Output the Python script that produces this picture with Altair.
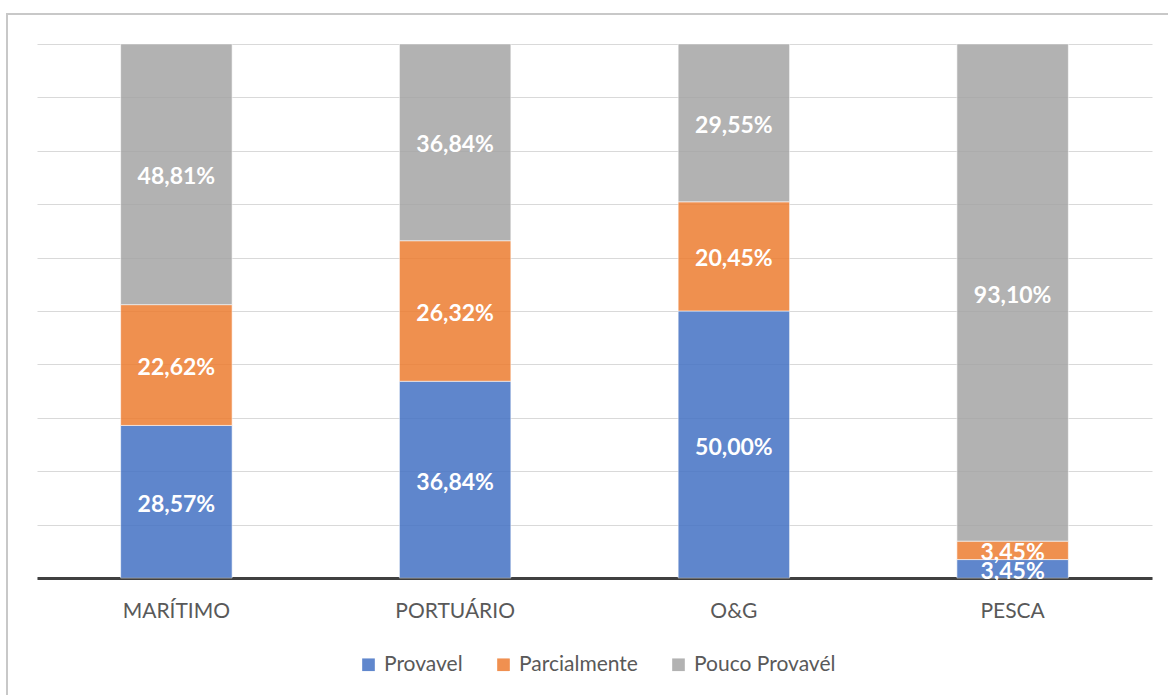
import altair as alt
import pandas as pd

# Sectors along the x axis
sectors = ["MARÍTIMO", "PORTUÁRIO", "O&G", "PESCA"]

# Share of answers per sector (percent), one list per answer class
provavel = [28.57, 36.84, 50.00, 3.45]
parcialmente = [22.62, 26.32, 20.45, 3.45]
pouco_provavel = [48.81, 36.84, 29.55, 93.10]

series = ["Provavel", "Parcialmente", "Pouco Provavél"]
colors = ["#4472C4", "#ED7D31", "#A5A5A5"]

rows = []
for i, s in enumerate(sectors):
    for k, (name, vals) in enumerate(zip(series, [provavel, parcialmente, pouco_provavel])):
        rows.append({"setor": s, "serie": name, "ordem": k, "valor": vals[i]})
df = pd.DataFrame(rows)

FONT = "Lato"
W, H = 1115, 534

base = alt.Chart(df).transform_stack(
    stack="valor", groupby=["setor"], sort=[alt.SortField("ordem")], as_=["y0", "y1"]
).transform_calculate(
    mid="(datum.y0 + datum.y1) / 2",
    rotulo="replace(format(datum.valor, '.2f'), '.', ',') + '%'",
)

x_enc = alt.X(
    "setor:N",
    sort=sectors,
    title=None,
    scale=alt.Scale(paddingInner=0.6, paddingOuter=0.3),
    axis=alt.Axis(
        labelAngle=0,
        labelFont=FONT,
        labelFontSize=21,
        labelColor="#595959",
        labelPadding=22,
        ticks=False,
        domainColor="#404040",
        domainWidth=3,
        grid=False,
    ),
)

y_scale = alt.Scale(domain=[0, 100], nice=False)

bars = base.mark_bar(opacity=0.85, stroke="#ffffff", strokeWidth=1, strokeOpacity=0.6).encode(
    x=x_enc,
    y=alt.Y(
        "y0:Q",
        scale=y_scale,
        title=None,
        axis=alt.Axis(
            values=list(range(0, 101, 10)),
            labels=False,
            ticks=False,
            domain=False,
            grid=True,
            gridColor="#d9d9d9",
            gridWidth=1,
        ),
    ),
    y2="y1:Q",
    color=alt.Color(
        "serie:N",
        scale=alt.Scale(domain=series, range=colors),
        sort=series,
        legend=alt.Legend(
            title=None,
            orient="none",
            direction="horizontal",
            legendX=321,
            legendY=610,
            symbolType="square",
            symbolSize=160,
            symbolOpacity=0.85,
            symbolStrokeWidth=0,
            labelFont=FONT,
            labelFontSize=21,
            labelColor="#595959",
            labelOffset=5,
            columnPadding=30,
        ),
    ),
)

labels = base.mark_text(
    font=FONT, fontSize=23, fontWeight="bold", color="white", dy=3
).encode(
    x=alt.X("setor:N", sort=sectors),
    y=alt.Y("mid:Q", scale=y_scale),
    text="rotulo:N",
)

# Outer frame around the whole figure
frame = alt.Chart(pd.DataFrame({"f": [0]})).mark_rect(
    fill=None, stroke="#c8c8c8", strokeWidth=2
).encode(
    x=alt.value(-30), x2=alt.value(W + 40), y=alt.value(-30), y2=alt.value(H + 140)
)

chart = alt.layer(frame, bars, labels).properties(
    width=W,
    height=H,
    autosize=alt.AutoSizeParams(type="none"),
    padding={"left": 37, "top": 44, "right": 16, "bottom": 117},
    background="white",
).configure_view(stroke=None)

chart.save("out.html", embed_options={"renderer": "svg", "actions": False})
